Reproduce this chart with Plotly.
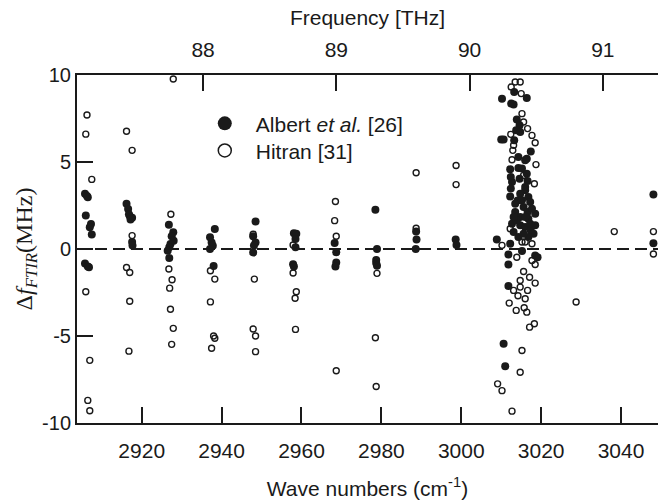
import plotly.graph_objects as go

# Albert et al. [26] (filled)
albert_x = [
    2905.8, 2906.5, 2906.3, 2906.0, 2907.3, 2907.0, 2907.5, 2905.8, 2906.5, 2906.8,
    2916.2, 2916.6, 2917.0, 2917.6, 2916.8, 2917.2, 2917.6, 2917.7,
    2926.8, 2927.9, 2927.5, 2928.0, 2927.2, 2926.9, 2926.5, 2926.9,
    2938.3, 2937.1, 2937.5, 2937.8, 2937.1, 2938.0,
    2948.5, 2947.9, 2948.5, 2948.1, 2947.9,
    2958.1, 2958.7, 2958.5, 2958.5, 2957.9, 2958.1,
    2968.3, 2968.7, 2968.7, 2968.5,
    2978.5, 2978.9, 2978.7, 2978.7, 2978.9,
    2988.7, 2988.8, 2988.6,
    2998.6, 2998.8,
    3013.25, 3010.2, 3016.4, 3012.5, 3013.1, 3013.9, 3014.6, 3013.75, 3014.75, 3010.0,
    3010.6, 3013.25, 3017.4, 3014.3, 3016.4, 3016.0, 3012.25, 3014.3, 3015.2, 3016.6,
    3012.7, 3012.4, 3016.0, 3012.25, 3014.75, 3016.8, 3014.1, 3017.25, 3015.6, 3013.5,
    3016.6, 3018.5, 3014.75, 3016.8, 3012.7, 3018.5, 3014.75, 3016.0, 3017.4, 3013.1,
    3018.1, 3014.3, 3016.8, 3008.9, 3012.25, 3015.2, 3011.8, 3018.5, 3019.1, 3011.8,
    3011.8, 3010.6, 3011.0,
    3016.0, 3013.5, 3016.0, 3013.9, 3017.7, 3015.2, 3013.1, 3016.4, 3017.25, 3015.6,
    3014.6, 3012.4,
    3048.1, 3048.1,
]
albert_y = [
    3.17, 2.98, 3.05, 1.92, 1.44, 1.25, 0.83, -0.83, -1.0, -1.05,
    2.6, 2.3, 1.9, 1.8, 2.0, 1.7, 0.4, 0.2,
    1.40, 0.96, 0.73, 0.48, 0.29, 0.10, -0.10, -0.52,
    1.15, 0.67, 0.38, 0.19, 0.0, -0.98,
    1.58, 0.73, 0.38, 0.20, -0.20,
    0.90, 0.87, 0.58, 0.10, -0.87, -1.0,
    0.35, -0.19, -0.77, -1.0,
    2.25, 0.0, -0.63, -0.80, -0.96,
    1.0, 0.54, 0.0,
    0.54, 0.23,
    9.03, 8.64, 8.68, 8.36, 8.30, 7.44, 7.11, 6.82, 6.73, 6.30,
    6.30, 6.25, 5.61, 5.29, 5.19, 5.10, 4.58, 4.65, 4.62, 3.91,
    3.85, 3.47, 3.37, 3.02, 3.18, 2.99, 2.79, 2.70, 2.41, 2.12,
    2.12, 2.03, 1.84, 1.74, 1.45, 1.36, 1.36, 1.26, 1.07, 0.97,
    0.88, 0.69, 0.69, 0.55, 0.30, -0.12, -0.31, -0.37, -0.47, -0.89,
    -2.13, -5.45, -6.74,
    3.56, 2.60, 1.84, 1.64, 2.32, 2.80, 1.84, 4.33, 1.45, 0.88,
    4.04, 4.14,
    3.13, 0.33,
]

# Hitran [31] (open)
hitran_x = [
    2906.3, 2906.0, 2907.5, 2906.0, 2907.0, 2906.5, 2907.0,
    2916.2, 2917.6, 2917.6, 2916.2, 2917.0, 2917.0, 2916.8,
    2927.9, 2927.3, 2926.8, 2927.6, 2927.0, 2927.2, 2927.9, 2927.5,
    2937.2, 2938.3, 2937.2, 2938.0, 2938.3, 2937.5,
    2947.9, 2948.2, 2947.9, 2948.5, 2948.5,
    2957.9, 2957.9, 2958.7, 2958.4, 2958.5,
    2968.5, 2968.3, 2968.7, 2968.7,
    2978.9, 2978.5, 2978.7,
    2988.7, 2988.7,
    2998.7, 2998.7,
    3013.5, 3014.75, 3012.5, 3015.0, 3015.2, 3015.6, 3016.6, 3012.4, 3017.7, 3018.5,
    3013.1, 3012.9, 3012.7, 3018.7, 3015.6, 3018.3, 3012.25, 3010.2, 3015.2, 3016.0,
    3017.7, 3013.9, 3017.7, 3018.5, 3015.6, 3017.1, 3014.75, 3018.5, 3013.1, 3014.75,
    3016.6, 3014.2, 3016.0, 3012.0, 3013.75, 3016.4, 3015.75, 3017.1, 3018.3, 3015.2,
    3014.75, 3009.1, 3010.2, 3012.7,
    3028.75, 3038.3, 3048.1, 3048.1,
]
hitran_y = [
    7.7, 6.6, 4.0, -2.46, -6.4, -8.7, -9.3,
    6.77, 5.67, 0.77, -1.06, -1.35, -3.0, -5.87,
    9.77, 2.0, -1.15, -1.77, -2.25, -3.46, -4.56, -5.48,
    -1.25, -1.73, -3.04, -5.0, -5.13, -5.7,
    0.85, -1.73, -4.6, -5.0, -5.9,
    0.23, -1.38, -2.46, -2.83, -4.62,
    2.73, 1.63, 0.73, -7.0,
    -1.4, -5.1, -7.9,
    4.38, 1.19,
    4.8, 3.7,
    9.60, 9.60, 9.31, 8.93, 7.78, 7.30, 6.92, 6.59, 6.53, 6.11,
    5.96, 5.67, 5.13, 4.85, 4.23, 3.75, 1.16, 0.21, 0.40, 0.40,
    0.30, -0.47, -0.66, -0.89, -1.29, -1.62, -1.81, -1.96, -2.38, -2.19,
    -2.38, -2.69, -2.86, -3.11, -3.53, -3.63, -3.38, -4.49, -4.30, -5.83,
    -7.08, -7.75, -8.14, -9.32,
    -3.05, 1.0, 1.0, -0.29,
]

x_ticks = [2920, 2940, 2960, 2980, 3000, 3020, 3040]
thz_ticks = [88, 89, 90, 91]
y_ticks = [-10, -5, 0, 5, 10]
y_tick_labels = ["-10", "-5", "0", "5", "10"]

CM_PER_THZ = 33.35641
x_range = [2903.8, 3049.25]
ink = "#1a1a1a"
sans = "Liberation Sans, Arial, sans-serif"
font_x = dict(family=sans, size=21, color=ink)
font_y = dict(family=sans, size=20, color=ink)
font_leg = dict(family=sans, size=21, color=ink)

fig = go.Figure()
fig.add_trace(go.Scatter(
    x=albert_x, y=albert_y, mode="markers", showlegend=False,
    marker=dict(symbol="circle", size=8, color=ink, line=dict(width=0)),
))
fig.add_trace(go.Scatter(
    x=hitran_x, y=hitran_y, mode="markers", showlegend=False,
    marker=dict(symbol="circle-open", size=6, color=ink, line=dict(width=1.4, color=ink)),
))
# legend entries (larger symbols), attached to top axis
fig.add_trace(go.Scatter(
    x=[None], y=[None], xaxis="x2", mode="markers", name="Albert <i>et al.</i> [26]",
    legend="legend",
    marker=dict(symbol="circle", size=14, color=ink),
))
fig.add_trace(go.Scatter(
    x=[None], y=[None], xaxis="x2", mode="markers", name="Hitran [31]",
    legend="legend2",
    marker=dict(symbol="circle-open", size=13, color=ink, line=dict(width=1.5, color=ink)),
))

axis_common = dict(
    showline=True, linewidth=2, linecolor=ink, ticks="inside", ticklen=16,
    tickwidth=2, tickcolor=ink, showgrid=False, zeroline=False,
    mirror=False, automargin=False,
)

legend_common = dict(
    xanchor="left", yanchor="top", font=font_leg, itemwidth=52,
    bgcolor="rgba(0,0,0,0)", borderwidth=0,
)

fig.update_layout(
    width=658, height=500,
    margin=dict(l=77, r=0, t=75, b=77),
    paper_bgcolor="white", plot_bgcolor="white",
    font=font_x,
    xaxis=dict(
        range=x_range, tickvals=x_ticks, side="bottom", tickfont=font_x,
        ticklabelstandoff=8,
        title=dict(text="Wave numbers (cm<sup>-1</sup>)", font=font_x, standoff=20),
        **axis_common,
    ),
    xaxis2=dict(
        range=[x_range[0] / CM_PER_THZ, x_range[1] / CM_PER_THZ],
        tickvals=thz_ticks, overlaying="x", side="top", anchor="y", tickfont=font_x,
        ticklabelstandoff=8,
        title=dict(text="Frequency [THz]", font=font_x, standoff=6),
        **axis_common,
    ),
    yaxis=dict(
        range=[-10, 10], tickvals=y_ticks, ticktext=y_tick_labels, tickfont=font_y,
        title=dict(text="Δ<i>f</i><sub><i>FTIR</i></sub>(MHz)",
                   font=dict(family="Liberation Serif, Times New Roman, serif", size=24, color=ink),
                   standoff=3),
        **axis_common,
    ),
    legend=dict(x=0.201, y=0.919, **legend_common),
    legend2=dict(x=0.201, y=0.841, **legend_common),
    shapes=[dict(
        type="line", xref="paper", x0=0, x1=1, yref="y", y0=0, y1=0,
        line=dict(color=ink, width=2, dash="12px,6px"), layer="below",
    )],
)

fig.write_html("out.html", config={"displayModeBar": False},
               post_script="document.body.style.margin='0';")
